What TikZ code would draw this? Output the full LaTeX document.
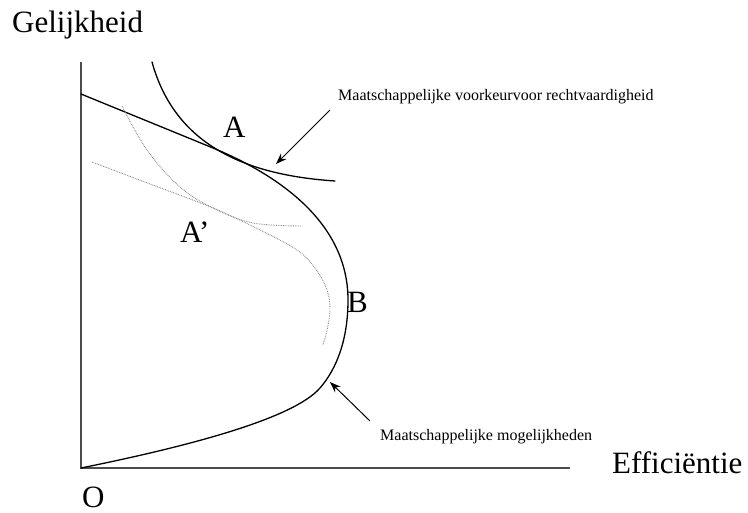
\documentclass[tikz,border=0pt]{standalone}
\usepackage{fontspec}
\setmainfont{Liberation Serif}
\usetikzlibrary{arrows.meta}
\begin{document}
\begin{tikzpicture}[x=1pt,y=-1pt,
  big/.style={font=\fontsize{31}{36}\selectfont, inner sep=0pt, anchor=base west},
  small/.style={font=\fontsize{16}{19}\selectfont, inner sep=0pt, anchor=base west},
  axis/.style={draw=black!70, line width=1.4pt},
  curve/.style={draw=black, line width=1.3pt, line cap=round},
  dots/.style={draw=black!45, line width=0.9pt, dash pattern=on 0.8pt off 0.9pt},
  pointer/.style={draw=black, line width=1pt, -{Stealth[length=11pt,width=8pt]}}]
\path[use as bounding box] (0,0) rectangle (748,513);

% axes
\coordinate (O) at (81,468);
\coordinate (ytop) at (81,62);
\coordinate (xend) at (570,468);
\draw[axis] (ytop) -- (O) -- (xend);

% social possibilities frontier
\draw[curve] (81,94) -- (213,148)
  .. controls (283,177) and (348,225) .. (348,300)
  .. controls (348,340) and (336.5,369) .. (320,388)
  .. controls (293.6,418.4) and (190,446) .. (O);

% social indifference curve
\draw[curve] (152,62) .. controls (175,145) and (245,175) .. (335,181);

% dotted frontier
\draw[dots] plot[smooth, tension=0.6] coordinates
  {(92,162) (150,184) (213,208) (260,230) (297,250) (315,268) (327,290) (330,310) (327,330) (323,345)};

% dotted indifference curve
\draw[dots] plot[smooth, tension=0.6] coordinates
  {(122,106) (147,150) (180,187) (213,208) (253,223) (303,226)};

% labels
\node[big] (yl) at (12,33) {Gelijkheid};
\node[big] (xl) at (612,473) {Efficiëntie};
\node[big] (ol) at (82,507) {O};
\node[big] (al) at (223,138) {A};
\node[big] (apl) at (180,243) {A’};
\node[big] (bl) at (347,313) {B};
\node[small] (pref) at (338,100.7) {Maatschappelijke voorkeurvoor rechtvaardigheid};
\node[small] (poss) at (380,440.7) {Maatschappelijke mogelijkheden};

% pointers
\coordinate (p1tail) at (330,110);
\coordinate (p1tip) at (276,164);
\coordinate (p2tail) at (370,421);
\coordinate (p2tip) at (330,382);
\draw[pointer] (p1tail) -- (p1tip);
\draw[pointer] (p2tail) -- (p2tip);
\end{tikzpicture}
\end{document}
